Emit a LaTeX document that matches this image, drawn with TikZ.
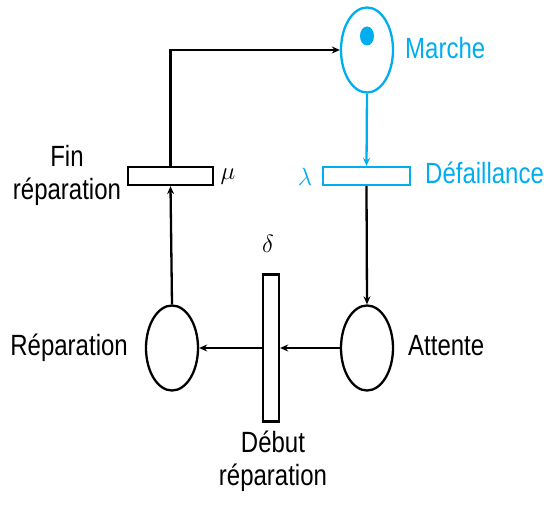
\documentclass[tikz,border=0pt]{standalone}
\usepackage{fontspec}
\setmainfont{Liberation Sans}
\usetikzlibrary{shapes.geometric,arrows.meta}
\definecolor{cyanm}{RGB}{0,174,239}
\newcommand{\tall}[1]{\scalebox{1}[1.22]{\begin{tabular}{@{}c@{}}#1\end{tabular}}}
\begin{document}
\begin{tikzpicture}[x=1pt,y=-1pt,
  place/.style={draw,line width=2.3pt,ellipse,minimum width=52pt,minimum height=85pt,inner sep=0pt},
  trans/.style={draw,line width=2.3pt,rectangle,inner sep=0pt,fill=white},
  lbl/.style={font=\fontsize{24}{27}\selectfont,inner sep=0pt},
  greek/.style={font=\fontsize{26}{28}\selectfont,inner sep=0pt},
  arc/.style={line width=2.3pt,-{Stealth[length=8pt,width=7pt]}}]
\useasboundingbox (0,0) rectangle (544,505);
% places
\node[place,draw=cyanm] (marche) at (367,50) {};
\node[fill=cyanm,ellipse,minimum width=14pt,minimum height=19pt,inner sep=0pt] (token) at (367,36) {};
\node[place] (repar) at (172,348) {};
\node[place] (attente) at (367,348) {};
% transitions
\node[trans,draw=cyanm,minimum width=87pt,minimum height=18pt] (defa) at (366.5,176) {};
\node[trans,minimum width=85pt,minimum height=18pt] (fin) at (170.5,176) {};
\node[trans,minimum width=16pt,minimum height=147pt] (debut) at (271,348) {};
% labels
\node[lbl,text=cyanm,anchor=west] (tmarche) at (405,52) {\tall{Marche}};
\node[lbl,text=cyanm,anchor=west] (tdefa) at (425,177) {\tall{Défaillance}};
\node[lbl,anchor=west] (tatt) at (408,349) {\tall{Attente}};
\node[lbl,anchor=east] (trep) at (128,349) {\tall{Réparation}};
\node[lbl] (tfin) at (67,176) {\tall{Fin\\réparation}};
\node[lbl] (tdeb) at (273,462) {\tall{Début\\réparation}};
\node[greek,text=cyanm] (lambda) at (305,177) {$\lambda$};
\node[greek] (mu) at (228,177) {$\mu$};
\node[greek] (delta) at (268,244) {$\delta$};
% arcs
\draw[arc] (fin.north) |- (marche.west);
\draw[arc,cyanm] (marche.south) -- (defa.north);
\draw[arc] (defa.south) -- (attente.north);
\draw[arc] (attente.west) -- (debut.east);
\draw[arc] (debut.west) -- (repar.east);
\draw[arc] (repar.north) -- (fin.south);
\end{tikzpicture}
\end{document}
